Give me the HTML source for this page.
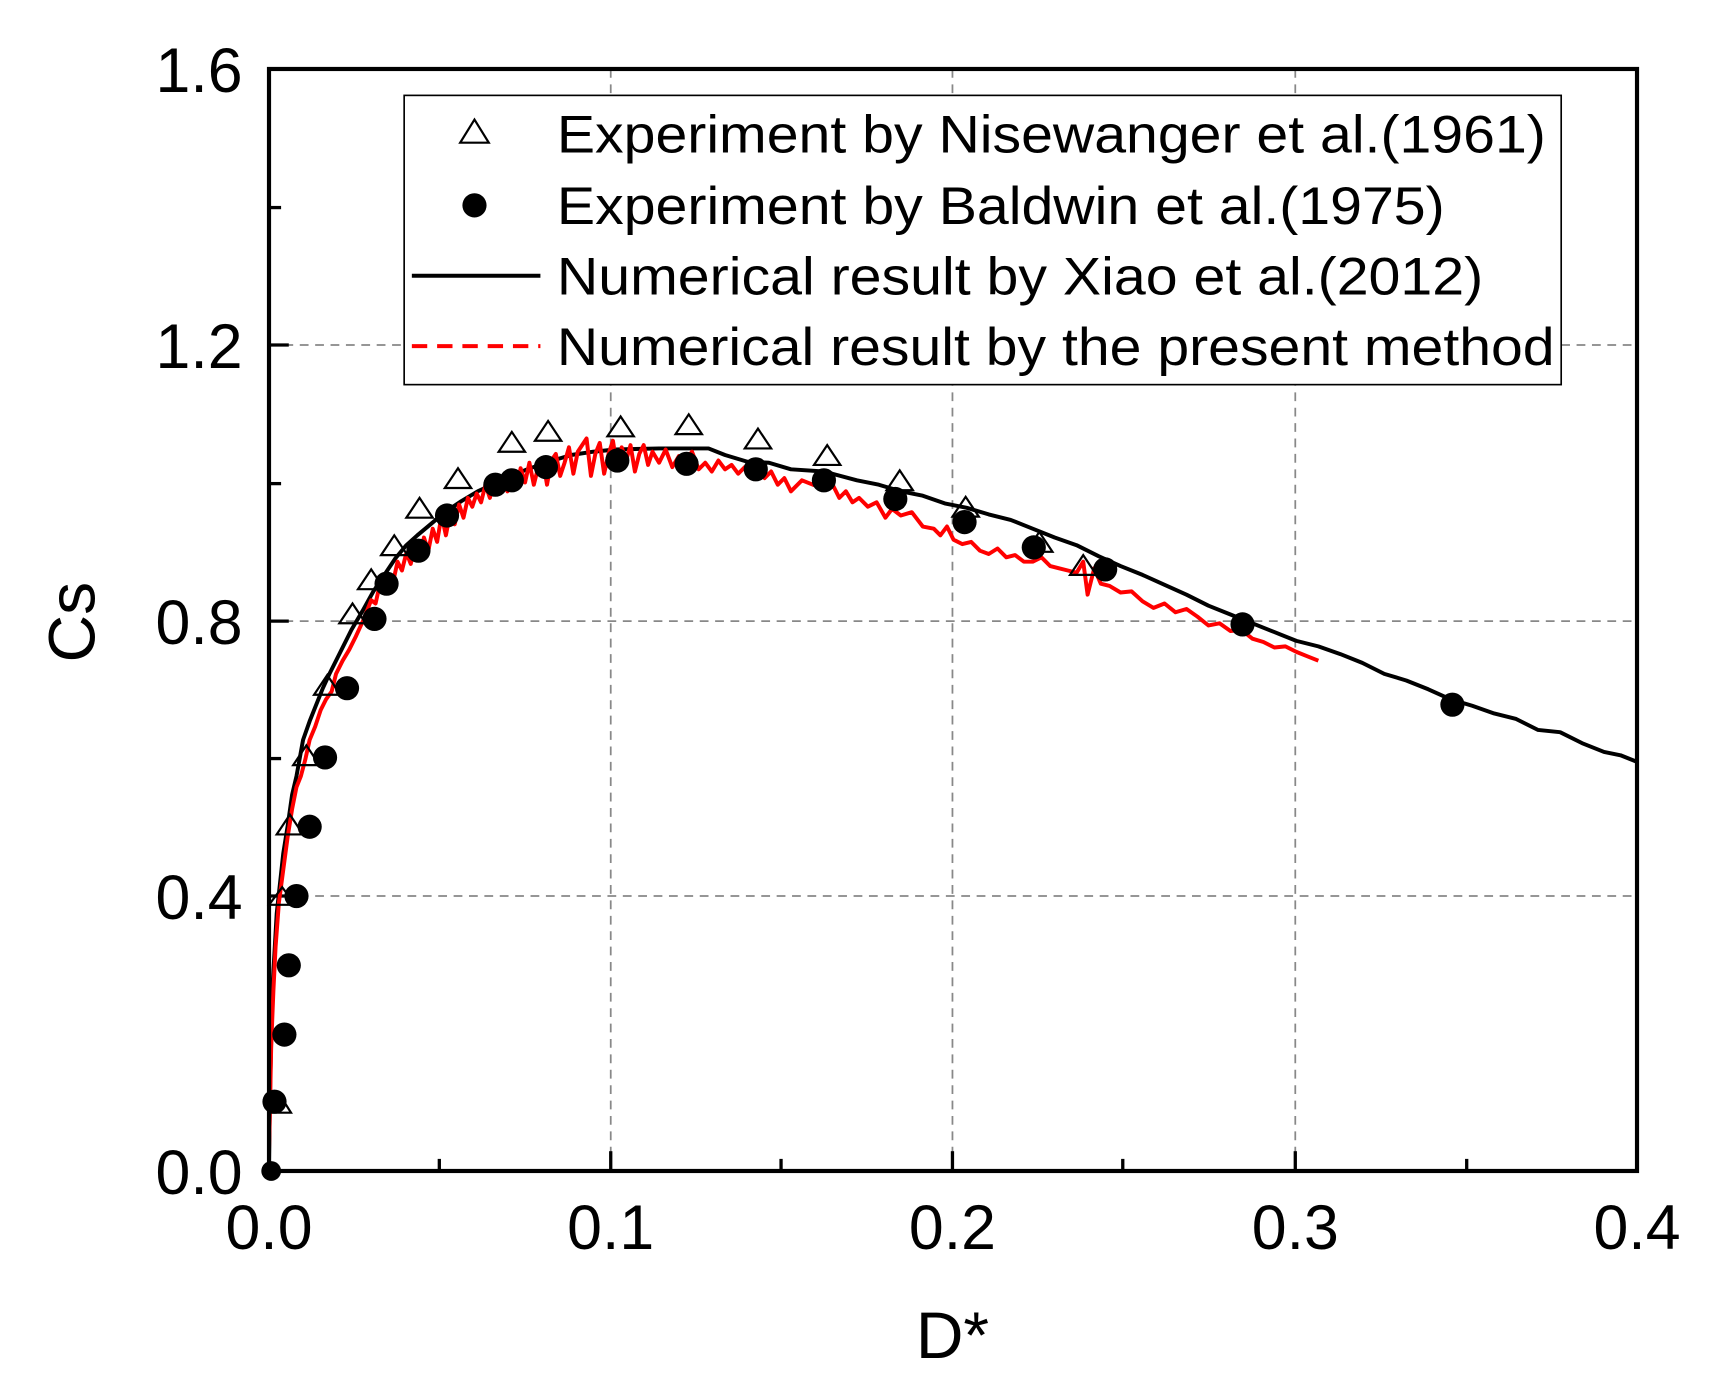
<!DOCTYPE html>
<html><head><meta charset="utf-8"><style>html,body{margin:0;padding:0;background:#fff}svg{display:block}</style></head>
<body>
<svg width="1724" height="1392" viewBox="0 0 1724 1392" xmlns="http://www.w3.org/2000/svg" font-family="Liberation Sans, Arial, sans-serif">
<rect width="1724" height="1392" fill="#fff"/>
<g transform="matrix(1.0988 0 0 1.0998 -0.2 0.8)">
<g stroke="#888" stroke-width="1.6" stroke-dasharray="8,6" fill="none">
<line x1="556" y1="62" x2="556" y2="1064"/><line x1="867" y1="62" x2="867" y2="1064"/><line x1="1179" y1="62" x2="1179" y2="1064"/>
<line x1="245" y1="814" x2="1490" y2="814"/><line x1="245" y1="564" x2="1490" y2="564"/><line x1="245" y1="313" x2="1490" y2="313"/>
</g>
<g stroke="#000" stroke-width="3">
<line x1="245" y1="62" x2="263" y2="62"/><line x1="245" y1="188" x2="256" y2="188"/><line x1="245" y1="313" x2="263" y2="313"/><line x1="245" y1="439" x2="256" y2="439"/><line x1="245" y1="564" x2="263" y2="564"/><line x1="245" y1="689" x2="256" y2="689"/><line x1="245" y1="814" x2="263" y2="814"/><line x1="245" y1="940" x2="256" y2="940"/>
<line x1="400" y1="1064" x2="400" y2="1053"/><line x1="556" y1="1064" x2="556" y2="1046"/><line x1="711" y1="1064" x2="711" y2="1053"/><line x1="867" y1="1064" x2="867" y2="1046"/><line x1="1022" y1="1064" x2="1022" y2="1053"/><line x1="1179" y1="1064" x2="1179" y2="1046"/><line x1="1335" y1="1064" x2="1335" y2="1053"/>
</g>
<polyline fill="none" stroke="#000" stroke-width="3.6" stroke-linejoin="round" points="245,1060 246,990 248,900 252,830 258,775 262,750 266,722 270,705 276,672 282,655 288,640 294,625 300,612 310,592 320,572 330,555 340,537 350,522 360,507 370,495 380,486 392,476 405,465 420,455 435,446 450,439 465,432 480,426 500,419 520,413 540,410 560,408 600,407 645,407 660,413 680,419 700,420 720,426 750,428 780,436 800,440 820,446 840,450 860,457 880,461 900,467 920,472 940,480 960,488 980,495 1000,505 1020,514 1040,522 1060,531 1080,540 1100,550 1120,558 1140,566 1160,574 1180,582 1200,587 1220,594 1240,602 1260,612 1280,618 1300,626 1320,635 1340,641 1360,648 1380,653 1400,663 1420,665 1440,675 1460,683 1475,686 1490,692"/>
<polyline fill="none" stroke="#f00" stroke-width="3.6" stroke-linejoin="round" points="245,1045 246,1000 247,950 249,900 251,860 254,820 258,790 262,760 266,735 270,715 274,705 278,690 282,672 287,660 292,645 297,635 302,628 306,612 312,600 318,590 324,578 330,565 334,555 338,545 342,548 346,530 350,535 354,522 358,528 362,510 366,518 370,502 374,512 378,495 382,505 386,488 390,500 394,480 398,492 402,468 406,486 410,465 414,476 418,458 422,470 426,452 430,460 434,448 438,456 442,440 446,452 450,436 454,448 458,432 462,446 466,428 470,444 474,425 478,438 482,420 486,440 490,424 494,416 498,440 502,418 506,412 510,432 514,420 518,406 522,430 526,410 530,404 534,398 538,432 542,412 546,402 550,430 554,412 558,400 562,426 566,406 570,418 574,404 578,428 582,412 586,404 590,422 594,410 600,420 606,408 612,424 618,414 624,418 630,410 636,426 642,420 648,428 654,418 660,426 666,422 672,430 678,424 684,434 690,426 696,434 702,428 708,440 714,434 720,446 730,436 740,440 750,443 758,440 764,452 770,446 776,456 782,452 790,460 798,456 806,470 812,462 820,468 830,465 840,478 850,480 856,486 862,478 868,490 876,494 884,492 892,500 900,503 908,498 916,506 924,504 932,510 940,510 948,506 956,514 964,516 972,518 980,520 986,510 990,540 996,516 1002,530 1010,532 1020,538 1030,537 1040,546 1050,552 1060,548 1070,556 1080,553 1090,560 1100,568 1110,566 1120,573 1130,572 1140,580 1150,583 1160,588 1170,587 1180,592 1190,596 1200,600"/>
<g fill="#000">
<circle cx="247" cy="1064" r="9"/><circle cx="250" cy="1001" r="11"/><circle cx="259" cy="940" r="11"/><circle cx="263" cy="877" r="11"/><circle cx="270" cy="814" r="11"/><circle cx="282" cy="751" r="11"/><circle cx="296" cy="688" r="11"/><circle cx="316" cy="625" r="11"/><circle cx="341" cy="562" r="11"/><circle cx="352" cy="530" r="11"/><circle cx="381" cy="500" r="11"/><circle cx="407" cy="468" r="11"/><circle cx="451" cy="440" r="11"/><circle cx="466" cy="436" r="11"/><circle cx="497" cy="424" r="11"/><circle cx="562" cy="418" r="11"/><circle cx="625" cy="421" r="11"/><circle cx="688" cy="426" r="11"/><circle cx="750" cy="436" r="11"/><circle cx="815" cy="453" r="11"/><circle cx="878" cy="474" r="11"/><circle cx="941" cy="497" r="11"/><circle cx="1006" cy="517" r="11"/><circle cx="1131" cy="567" r="11"/><circle cx="1322" cy="640" r="11"/>
</g>
<g fill="none" stroke="#000" stroke-width="2">
<path d="M255,995 l-10,16 h20 z"/><path d="M257,806 l-12,16 h24 z"/><path d="M264,740 l-12,18 h24 z"/><path d="M279,677 l-12,18 h24 z"/><path d="M298,613 l-12,18 h24 z"/><path d="M321,548 l-12,18 h24 z"/><path d="M338,517 l-12,18 h24 z"/><path d="M359,486 l-12,18 h24 z"/><path d="M382,452 l-12,18 h24 z"/><path d="M417,425 l-12,18 h24 z"/><path d="M466,392 l-12,18 h24 z"/><path d="M499,382 l-12,18 h24 z"/><path d="M565,378 l-12,18 h24 z"/><path d="M627,376 l-12,18 h24 z"/><path d="M690,389 l-12,18 h24 z"/><path d="M753,404 l-12,18 h24 z"/><path d="M819,427 l-12,18 h24 z"/><path d="M879,451 l-12,18 h24 z"/><path d="M946,483 l-12,18 h24 z"/><path d="M986,504 l-12,18 h24 z"/>
</g>
<rect x="245" y="62" width="1245" height="1002" fill="none" stroke="#000" stroke-width="3.8"/>
<rect x="368" y="86" width="1053" height="263" fill="#fff" stroke="#000" stroke-width="1.5"/>
<path d="M432,108 l-13,21 h26 z" fill="none" stroke="#000" stroke-width="2"/>
<circle cx="432" cy="186" r="11" fill="#000"/>
<line x1="375" y1="250" x2="492" y2="250" stroke="#000" stroke-width="3.6"/>
<line x1="375" y1="314" x2="492" y2="314" stroke="#f00" stroke-width="3.6" stroke-dasharray="14,9"/>
<g font-size="48" fill="#000">
<text x="507" y="138" textLength="900" lengthAdjust="spacingAndGlyphs">Experiment by Nisewanger et al.(1961)</text>
<text x="507" y="203" textLength="808" lengthAdjust="spacingAndGlyphs">Experiment by Baldwin et al.(1975)</text>
<text x="507" y="267" textLength="843" lengthAdjust="spacingAndGlyphs">Numerical result by Xiao et al.(2012)</text>
<text x="507" y="331" textLength="908" lengthAdjust="spacingAndGlyphs">Numerical result by the present method</text>
</g>
<g font-size="57" fill="#000" text-anchor="end">
<text x="221" y="83">1.6</text><text x="221" y="334">1.2</text><text x="221" y="585">0.8</text><text x="221" y="835">0.4</text><text x="221" y="1085">0.0</text>
</g>
<g font-size="57" fill="#000" text-anchor="middle">
<text x="245" y="1135">0.0</text><text x="556" y="1135">0.1</text><text x="867" y="1135">0.2</text><text x="1179" y="1135">0.3</text><text x="1490" y="1135">0.4</text>
<text x="867" y="1234" font-size="60">D*</text>
<text transform="translate(86,565) rotate(-90)" font-size="60">Cs</text>
</g>
</g>
</svg>
</body></html>
